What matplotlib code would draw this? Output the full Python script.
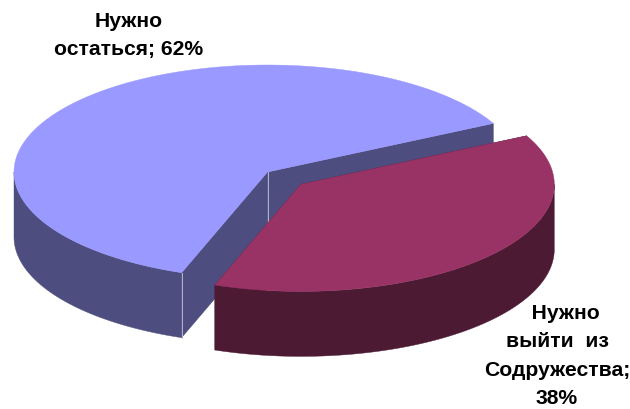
import numpy as np
import matplotlib
matplotlib.use("Agg")
import matplotlib.pyplot as plt
from matplotlib.patches import Polygon

labels = ["Нужно\nостаться; 62%", "   Нужно\nвыйти  из\nСодружества;\n38%"]
shares = [62, 38]
top_colors = ["#9999FF", "#993366"]
side_colors = ["#4D4D80", "#4D1A33"]

CX, CY, RX, RY, DEPTH = 267.5, 173.0, 253.5, 107.0, 65.0
START = 27.0
EXPLODE = [0.0, 0.175]

fig = plt.figure(figsize=(6.3, 4.1), dpi=100)
ax = fig.add_axes([0, 0, 1, 1])
ax.set_xlim(0, 630)
ax.set_ylim(410, 0)
ax.axis("off")


def pt(cx, cy, a):
    r = np.deg2rad(a)
    return cx + RX * np.cos(r), cy - RY * np.sin(r)


def arc(cx, cy, a0, a1, n=200):
    r = np.deg2rad(np.linspace(a0, a1, n))
    return np.column_stack([cx + RX * np.cos(r), cy - RY * np.sin(r)])


def fill(xy, color, z):
    ax.add_patch(Polygon(xy, closed=True, fc=color, ec=color, lw=0.3, zorder=z))


total = sum(shares)
a0 = START
for i, share in enumerate(shares):
    a1 = a0 + share / total * 360
    mid = np.deg2rad((a0 + a1) / 2)
    cx = CX + EXPLODE[i] * RX * np.cos(mid)
    cy = CY - EXPLODE[i] * RY * np.sin(mid)
    z = 1 + i * 10
    # cut faces
    for a in (a0, a1):
        p = pt(cx, cy, a)
        fill([(cx, cy), p, (p[0], p[1] + DEPTH), (cx, cy + DEPTH)], side_colors[i], z)
    # outer rim (lower half of ellipse only)
    for lo, hi in ((a0, a1), (a0 - 360, a1 - 360)):
        lo2, hi2 = max(lo, 180), min(hi, 360)
        if hi2 > lo2:
            rim = arc(cx, cy, lo2, hi2)
            fill(np.vstack([rim, rim[::-1] + [0, DEPTH]]), side_colors[i], z + 1)
    # top face
    fill(np.vstack([[(cx, cy)], arc(cx, cy, a0, a1, 400)]), top_colors[i], z + 2)
    if i == 0:
        for a in (a1, 0):
            p = pt(cx, cy, a) if a else (cx, cy)
            ax.plot([p[0], p[0]], [p[1], p[1] + DEPTH], color="#B4B4D2", lw=0.7, zorder=z + 1.5)
    a0 = a1

font = dict(family="Liberation Sans", fontweight="bold", fontsize=15.2, color="black",
            ha="center", va="center", linespacing=1.61, zorder=50)
ax.text(129, 35.5, labels[0], **font)
ax.text(557, 356, labels[1], **font)

fig.savefig("out.png", dpi=100, facecolor="white")
